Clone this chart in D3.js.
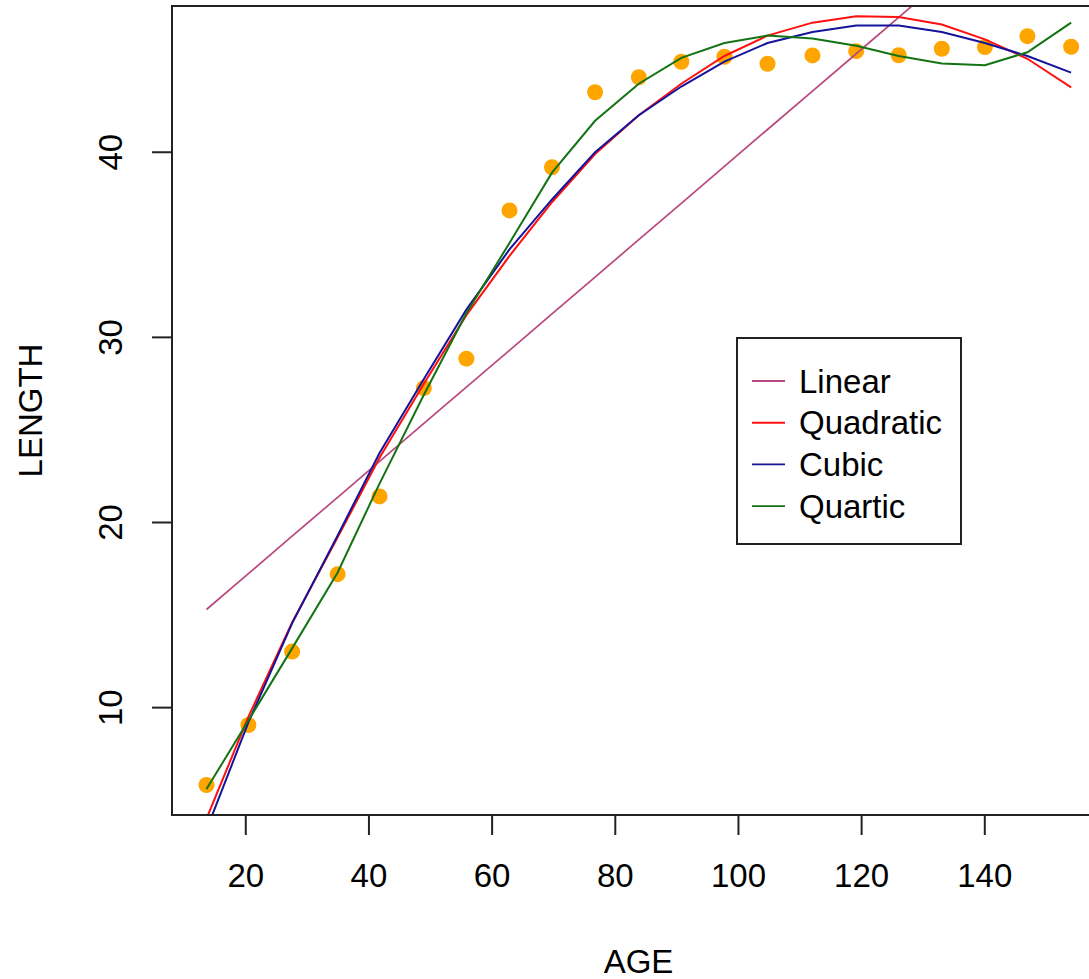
<!DOCTYPE html>
<html>
<head>
<meta charset="utf-8">
<script src="https://cdn.jsdelivr.net/npm/d3@7"></script>
<style>
  html, body { margin: 0; padding: 0; background: #fff; }
  svg { display: block; }
  text { font-family: "Liberation Sans", Arial, sans-serif; fill: #000; }
</style>
</head>
<body>
<svg id="chart" width="1089" height="979"></svg>
<script>
// observed data
var ages = [13.7, 20.5, 27.6, 35, 41.8, 49, 55.9, 62.9, 69.8, 76.8, 83.9, 90.8, 97.8, 104.8, 112.1, 119.2, 126.1, 133.1, 140.1, 147, 154.1];
var lengths = [5.82, 9.06, 13.03, 17.21, 21.41, 27.26, 28.85, 36.86, 39.19, 43.24, 44.05, 44.89, 45.16, 44.78, 45.23, 45.46, 45.24, 45.59, 45.68, 46.27, 45.70];

// fitted values at each age
var fitLinear = [15.3, 17.24, 19.26, 21.36, 23.3, 25.35, 27.31, 29.3, 31.27, 33.26, 35.28, 37.24, 39.24, 41.23, 43.3, 45.32, 47.29, 49.28, 51.27, 53.24, 55.26];
var fitQuadratic = [4.0, 9.5, 14.6, 19.2, 23.5, 27.5, 31.2, 34.4, 37.3, 39.9, 42.0, 43.7, 45.2, 46.3, 47.0, 47.35, 47.3, 46.9, 46.1, 45.05, 43.5];
var fitCubic = [3.4, 9.2, 14.55, 19.3, 23.75, 27.75, 31.5, 34.75, 37.45, 40.0, 42.0, 43.55, 44.9, 45.9, 46.5, 46.85, 46.85, 46.5, 45.9, 45.2, 44.3];
var fitQuartic = [5.6, 9.3, 13.2, 17.3, 22.1, 26.9, 31.3, 35.1, 38.9, 41.7, 43.7, 45.1, 45.9, 46.3, 46.15, 45.75, 45.2, 44.8, 44.7, 45.4, 47.0];

var xTicks = [20, 40, 60, 80, 100, 120, 140];
var yTicks = [10, 20, 30, 40];
var legendLabels = ["Linear", "Quadratic", "Cubic", "Quartic"];
var legendColors = ["#b8487f", "#ff1010", "#14149a", "#137313"];

var svg = d3.select("#chart");

var margin = {left: 172, top: 6},
	plotW = 933,
	plotH = 809,
	fontSize = 33;

var x = d3.scaleLinear()
	.domain([8.1, 159.6])
	.range([margin.left, margin.left + plotW]);

var y = d3.scaleLinear()
	.domain([4.2, 47.9])
	.range([margin.top + plotH, margin.top]);

svg.append("clipPath")
	.attr("id", "plot-clip")
	.append("rect")
	.attr("x", margin.left)
	.attr("y", margin.top)
	.attr("width", plotW)
	.attr("height", plotH);

// fitted curves
var fits = [fitLinear, fitQuadratic, fitCubic, fitQuartic];
var line = d3.line()
	.x(function(d) { return x(d[0]); })
	.y(function(d) { return y(d[1]); });

var plot = svg.append("g").attr("clip-path", "url(#plot-clip)");

// points first, lines on top
plot.selectAll("circle.pt")
	.data(d3.zip(ages, lengths))
	.enter().append("circle")
	.attr("class", "pt")
	.attr("cx", function(d) { return x(d[0]); })
	.attr("cy", function(d) { return y(d[1]); })
	.attr("r", 8)
	.attr("fill", "#ffa500");

fits.forEach(function(vals, i) {
	plot.append("path")
		.datum(d3.zip(ages, vals))
		.attr("d", line)
		.attr("fill", "none")
		.attr("stroke", legendColors[i])
		.attr("stroke-width", i == 0 ? 1.7 : 2);
});

// box around plot
svg.append("rect")
	.attr("x", margin.left)
	.attr("y", margin.top)
	.attr("width", plotW)
	.attr("height", plotH)
	.attr("fill", "none")
	.attr("stroke", "#222")
	.attr("stroke-width", 2);

// x axis
var xAxis = d3.axisBottom(x)
	.tickValues(xTicks)
	.tickSize(20)
	.tickPadding(29)
	.tickSizeOuter(0);

var gx = svg.append("g")
	.attr("transform", "translate(0," + (margin.top + plotH) + ")")
	.call(xAxis);
gx.select(".domain").remove();
gx.selectAll(".tick line").attr("stroke", "#222").attr("stroke-width", 2);
gx.selectAll(".tick text")
	.attr("font-size", fontSize)
	.attr("font-family", "Liberation Sans, Arial, sans-serif")
	.attr("fill", "#000");

// y axis, labels rotated like R's default
var gy = svg.append("g");
gy.selectAll("line")
	.data(yTicks)
	.enter().append("line")
	.attr("x1", margin.left - 20)
	.attr("x2", margin.left)
	.attr("y1", y)
	.attr("y2", y)
	.attr("stroke", "#222")
	.attr("stroke-width", 2);

gy.selectAll("text")
	.data(yTicks)
	.enter().append("text")
	.attr("transform", function(d) { return "translate(110," + y(d) + ") rotate(-90)"; })
	.attr("text-anchor", "middle")
	.attr("dy", "0.35em")
	.attr("font-size", fontSize)
	.text(function(d) { return d; });

// axis titles
svg.append("text")
	.attr("x", x((x.domain()[0] + x.domain()[1]) / 2))
	.attr("y", 973)
	.attr("text-anchor", "middle")
	.attr("font-size", fontSize)
	.text("AGE");

svg.append("text")
	.attr("transform", "translate(42," + y((y.domain()[0] + y.domain()[1]) / 2) + ") rotate(-90)")
	.attr("text-anchor", "middle")
	.attr("font-size", fontSize)
	.text("LENGTH");

// legend
var legend = svg.append("g").attr("transform", "translate(737,338)");

legend.append("rect")
	.attr("width", 224)
	.attr("height", 206)
	.attr("fill", "#fff")
	.attr("stroke", "#222")
	.attr("stroke-width", 2);

var rows = legend.selectAll("g.row")
	.data(legendLabels)
	.enter().append("g")
	.attr("class", "row")
	.attr("transform", function(d, i) { return "translate(0," + (43 + i * 41.7) + ")"; });

rows.append("line")
	.attr("x1", 15)
	.attr("x2", 48)
	.attr("stroke", function(d, i) { return legendColors[i]; })
	.attr("stroke-width", 1.9);

rows.append("text")
	.attr("x", 62)
	.attr("dy", "0.35em")
	.attr("font-size", fontSize)
	.text(function(d) { return d; });
</script>
</body>
</html>
